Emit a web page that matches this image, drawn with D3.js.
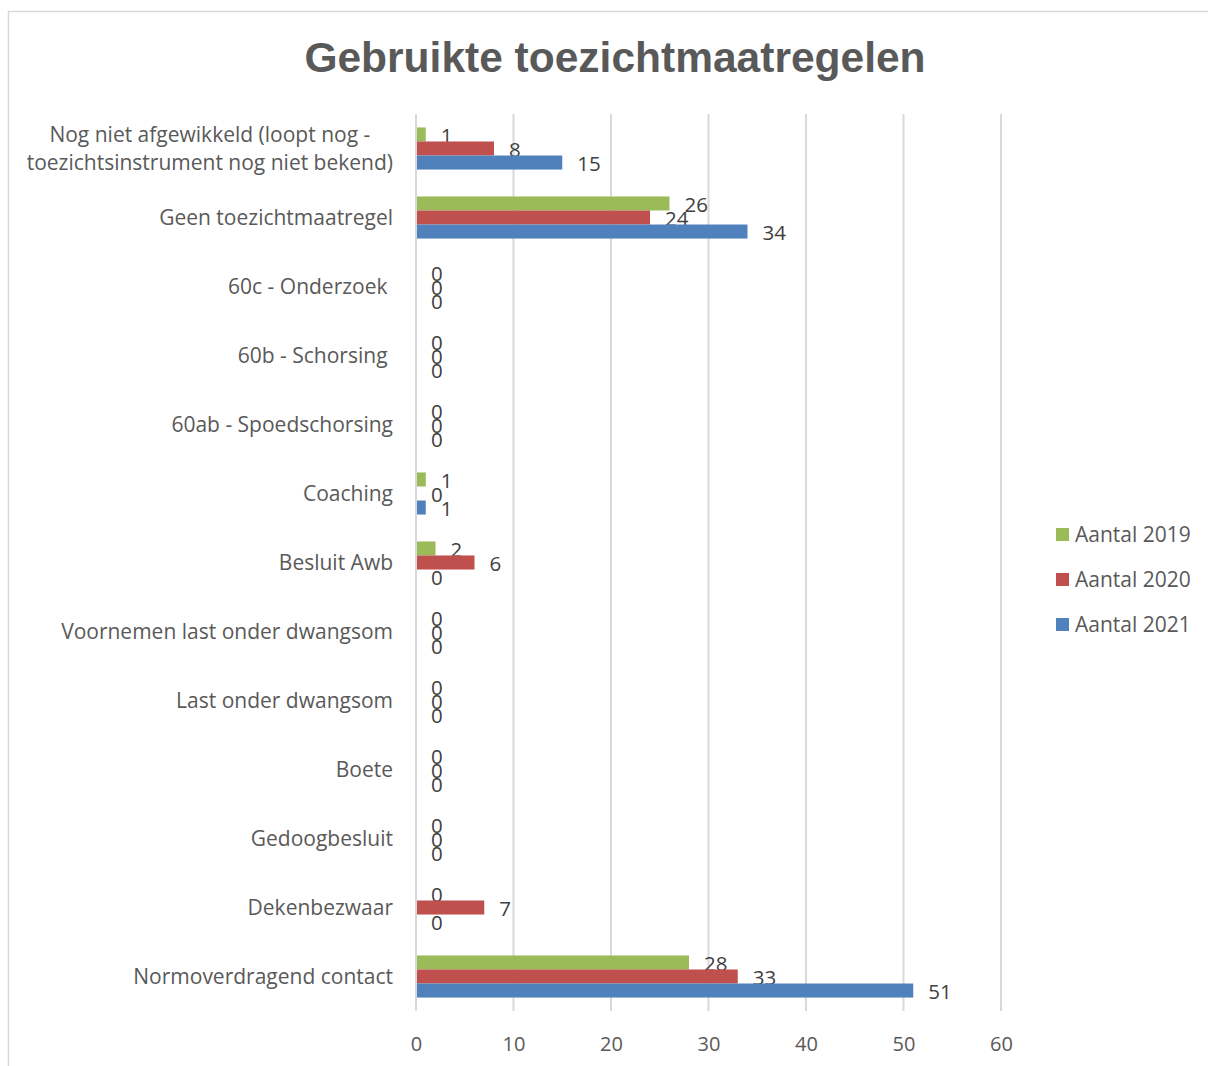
<!DOCTYPE html>
<html>
<head>
<meta charset="utf-8">
<script src="https://cdn.jsdelivr.net/npm/d3@7"></script>
<style>
  body { margin: 0; background: #fff; }
  text { white-space: pre; }
</style>
</head>
<body>
<svg id="chart" width="1208" height="1066"></svg>
<script>
// categories, top to bottom
const categories = [
  "Nog niet afgewikkeld (loopt nog -|toezichtsinstrument nog niet bekend)",
  "Geen toezichtmaatregel",
  "60c - Onderzoek ",
  "60b - Schorsing ",
  "60ab - Spoedschorsing",
  "Coaching",
  "Besluit Awb",
  "Voornemen last onder dwangsom",
  "Last onder dwangsom",
  "Boete",
  "Gedoogbesluit",
  "Dekenbezwaar",
  "Normoverdragend contact",
];
const seriesNames = ["Aantal 2019", "Aantal 2020", "Aantal 2021"];
const values2019 = [1, 26, 0, 0, 0, 1, 2, 0, 0, 0, 0, 0, 28];
const values2020 = [8, 24, 0, 0, 0, 0, 6, 0, 0, 0, 0, 7, 33];
const values2021 = [15, 34, 0, 0, 0, 1, 0, 0, 0, 0, 0, 0, 51];
const xTicks = [0, 10, 20, 30, 40, 50, 60];
const colors = ["#9bbb59", "#c0504d", "#4f81bd"];

const svg = d3.select("#chart");
const font = "'Open Sans', Lato, sans-serif";

// chart frame
svg.append("rect")
  .attr("x", 8.5).attr("y", 11.5)
  .attr("width", 1210).attr("height", 1080)
  .attr("fill", "none")
  .attr("stroke", "#d9d9d9")
  .attr("stroke-width", 1.5);

// title
svg.append("text")
  .attr("x", 615).attr("y", 72)
  .attr("text-anchor", "middle")
  .attr("font-family", "'Liberation Sans', Arial, sans-serif")
  .attr("font-weight", "bold")
  .attr("font-size", "42.5px")
  .attr("fill", "#595959")
  .text("Gebruikte toezichtmaatregelen");

const plotLeft = 416, plotRight = 1001, plotTop = 114, plotBottom = 1011;

const x = d3.scaleLinear().domain([0, 60]).range([plotLeft, plotRight]);
const y = d3.scaleBand().domain(categories).range([plotTop, plotBottom])
  .paddingInner(0.39).paddingOuter(0.195);
const ySub = d3.scaleBand().domain(seriesNames).range([0, y.bandwidth()]);

// gridlines
svg.append("g")
  .selectAll("line")
  .data(xTicks)
  .join("line")
  .attr("x1", d => x(d)).attr("x2", d => x(d))
  .attr("y1", plotTop).attr("y2", plotBottom)
  .attr("stroke", "#d9d9d9")
  .attr("stroke-width", 2);

// x axis labels
const xAxis = svg.append("g")
  .attr("transform", "translate(0," + (plotBottom + 26) + ")")
  .call(d3.axisBottom(x).tickValues(xTicks).tickSize(0).tickPadding(0));
xAxis.select(".domain").remove();
xAxis.selectAll("text")
  .attr("font-family", font)
  .attr("font-size", "20px")
  .attr("fill", "#595959");

// category labels (multi-line labels are centred as a block, block right-aligned)
const yAxis = svg.append("g")
  .attr("transform", "translate(" + (plotLeft - 23) + ",0)")
  .call(d3.axisLeft(y).tickSize(0).tickPadding(0).tickFormat(""));
yAxis.select(".domain").remove();
yAxis.selectAll(".tick")
  .append("text")
  .attr("font-family", font)
  .attr("font-size", "21px")
  .attr("fill", "#595959")
  .each(function (d) {
    const lines = d.split("|");
    const t = d3.select(this);
    const spans = lines.map((l, i) =>
      t.append("tspan")
        .attr("y", (i - (lines.length - 1) / 2) * 28)
        .attr("dy", "0.35em")
        .text(l));
    if (lines.length === 1) {
      t.attr("text-anchor", "end");
      spans[0].attr("x", 0);
    } else {
      const w = d3.max(spans, s => s.node().getComputedTextLength());
      t.attr("text-anchor", "middle");
      spans.forEach(s => s.attr("x", -w / 2));
    }
  });

const series = [values2019, values2020, values2021].map((vals, i) => ({
  name: seriesNames[i],
  color: colors[i],
  values: vals.map((v, j) => ({ cat: categories[j], value: v })),
}));

const groups = svg.append("g")
  .selectAll("g")
  .data(series)
  .join("g");

groups.selectAll("rect")
  .data(s => s.values.map(v => ({ ...v, name: s.name, color: s.color })))
  .join("rect")
  .attr("x", x(0))
  .attr("y", d => y(d.cat) + ySub(d.name))
  .attr("width", d => x(d.value) - x(0))
  .attr("height", ySub.bandwidth())
  .attr("fill", d => d.color);

// value labels
groups.selectAll("text")
  .data(s => s.values.map(v => ({ ...v, name: s.name })))
  .join("text")
  .attr("x", d => x(d.value) + 15)
  .attr("y", d => y(d.cat) + ySub(d.name) + ySub.bandwidth() / 2 + 1)
  .attr("dy", "0.35em")
  .attr("font-family", font)
  .attr("font-size", "20.5px")
  .attr("fill", "#404040")
  .text(d => d.value);

// category axis line
svg.append("line")
  .attr("x1", x(0)).attr("x2", x(0))
  .attr("y1", plotTop).attr("y2", plotBottom)
  .attr("stroke", "#d9d9d9")
  .attr("stroke-width", 2);

// legend
const legend = svg.append("g")
  .selectAll("g")
  .data(series)
  .join("g")
  .attr("transform", (d, i) => "translate(1056," + (535 + i * 45) + ")");
legend.append("rect")
  .attr("x", 0).attr("y", -7)
  .attr("width", 13).attr("height", 13)
  .attr("fill", d => d.color);
legend.append("text")
  .attr("x", 19).attr("y", 0)
  .attr("dy", "0.35em")
  .attr("font-family", font)
  .attr("font-size", "21px")
  .attr("fill", "#595959")
  .text(d => d.name);
</script>
</body>
</html>
